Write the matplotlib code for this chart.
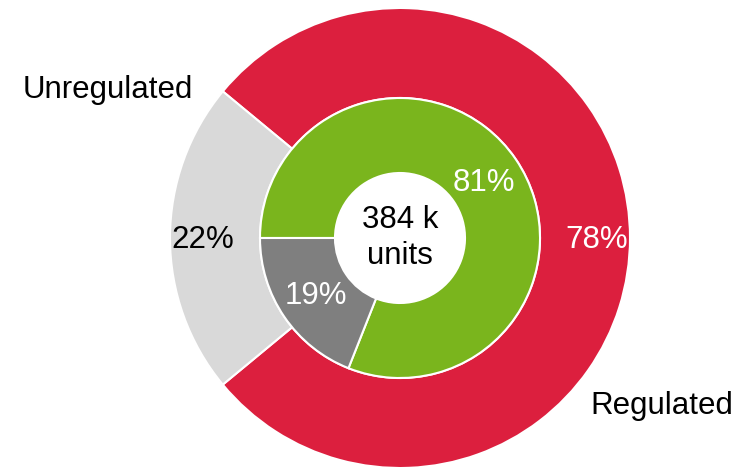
import matplotlib
matplotlib.use("Agg")
import matplotlib.pyplot as plt

plt.rcParams['font.family'] = ['Liberation Sans', 'DejaVu Sans']

# outer ring
outer_labels = ["Regulated", "Unregulated"]
outer_values = [78, 22]
outer_colors = ["#DC1F3E", "#D9D9D9"]
outer_text_colors = ["white", "black"]

# inner ring
inner_values = [81, 19]
inner_colors = ["#7AB51D", "#7F7F7F"]

center_text = "384 k\nunits"

W, H = 748, 468
fig = plt.figure(figsize=(W / 100, H / 100), dpi=100)
ax = fig.add_axes([0, 0, 1, 1])

cx, cy = 400, H - 238
r_out, r_mid, r_in = 230, 140, 65

# small slice centred on the left
start_out = 180 + outer_values[1] / sum(outer_values) * 180
start_in = 180 + inner_values[1] / sum(inner_values) * 360

ax.pie(outer_values, colors=outer_colors, startangle=start_out,
       center=(cx, cy), radius=r_out, frame=True,
       wedgeprops=dict(width=r_out - r_mid, edgecolor="white", linewidth=1.5))
ax.pie(inner_values, colors=inner_colors, startangle=start_in,
       center=(cx, cy), radius=r_mid, frame=True,
       wedgeprops=dict(width=r_mid - r_in, edgecolor="white", linewidth=1.5))
ax.set_xlim(0, W)
ax.set_ylim(0, H)
ax.set_aspect("equal")
ax.axis("off")

fs = 22.5
# percentage labels
ax.text(597, H - 240, f"{outer_values[0]}%", color=outer_text_colors[0], fontsize=fs, ha="center", va="center")
ax.text(203, H - 240, f"{outer_values[1]}%", color=outer_text_colors[1], fontsize=fs, ha="center", va="center")
ax.text(484, H - 183, f"{inner_values[0]}%", color="white", fontsize=fs, ha="center", va="center")
ax.text(316, H - 296, f"{inner_values[1]}%", color="white", fontsize=fs, ha="center", va="center")

# category labels
ax.text(662, H - 406, outer_labels[0], color="black", fontsize=fs, ha="center", va="center")
ax.text(108, H - 90, outer_labels[1], color="black", fontsize=fs, ha="center", va="center")

ax.text(cx, cy, center_text, color="black", fontsize=fs, ha="center", va="center", linespacing=1.25)

fig.savefig("out.png", dpi=100)
